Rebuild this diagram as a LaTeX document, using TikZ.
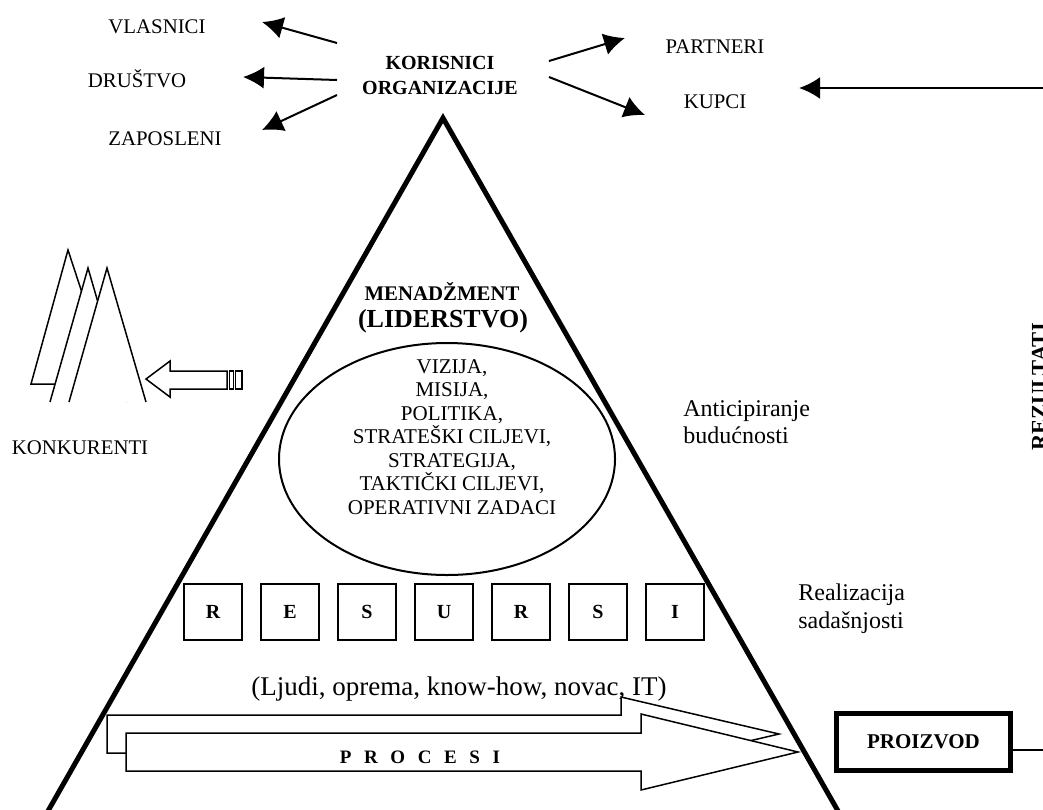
\documentclass[tikz,border=0pt]{standalone}
\usepackage{fontspec}
\setmainfont{Liberation Serif}
\usetikzlibrary{arrows.meta,shapes.geometric}
\newcommand{\fsz}[2]{\fontsize{#1}{#2}\selectfont}
\begin{document}
\begin{tikzpicture}[x=0.5pt,y=-0.5pt,
 lbl/.style={font=\fsz{10.4}{12}, inner sep=0, anchor=base},
 bl/.style={font=\bfseries\fsz{10}{12.5}, inner sep=0},
 conn/.style={line width=1pt, -{Latex[length=10.5pt,width=11pt]}},
 edgeline/.style={line width=2.5pt, line join=miter},
 rbox/.style={draw, line width=0.75pt, minimum width=29pt, minimum height=28pt, inner sep=0, font=\bfseries\fsz{10}{12}},
 hollow/.style={draw, line width=0.75pt, fill=white, line join=miter},
 thin/.style={line width=0.75pt, line join=miter},
]
\useasboundingbox (0,0) rectangle (1043,809);

% main pyramid
\coordinate (apex) at (443,118);
\coordinate (bl) at (48,811);
\coordinate (br) at (838,811);
\draw[edgeline] (bl) -- (apex) -- (br);

% users of the organisation
\node[bl, align=center] (kor) at (440,75.5) {KORISNICI\\ORGANIZACIJE};
\node[lbl] (vla) at (157,33) {VLASNICI};
\node[lbl] (dru) at (137,87) {DRUŠTVO};
\node[lbl] (zap) at (165,145) {ZAPOSLENI};
\node[lbl] (par) at (715,53) {PARTNERI};
\node[lbl] (kup) at (715,108) {KUPCI};

\coordinate (k1) at (337,43);  \coordinate (t1) at (262,22);
\coordinate (k2) at (337,80);  \coordinate (t2) at (243,77);
\coordinate (k3) at (337,95);  \coordinate (t3) at (262,130);
\coordinate (k4) at (549,61);  \coordinate (t4) at (625,38);
\coordinate (k5) at (549,77);  \coordinate (t5) at (645,115);
\draw[conn] (k1) -- (t1);
\draw[conn] (k2) -- (t2);
\draw[conn] (k3) -- (t3);
\draw[conn] (k4) -- (t4);
\draw[conn] (k5) -- (t5);

\coordinate (rin) at (1043,88); \coordinate (kt) at (799,88);
\draw[line width=1.25pt, -{Latex[length=10.5pt,width=11pt]}] (rin) -- (kt);

% competitors
\draw[hollow] (31,384) -- (68,250) -- (112,384) -- cycle;
\fill[white] (50,402) -- (88,268) -- (127,402) -- cycle;
\draw[thin] (50,402) -- (88,268) -- (127,402);
\fill[white] (69,402) -- (107,268) -- (146,402) -- cycle;
\draw[thin] (69,402) -- (107,268) -- (146,402);
\draw[hollow] (146,379) -- (170,361) -- (170,371) -- (227,371) -- (227,389) -- (170,389) -- (170,397) -- cycle;
\draw[thin] (229.5,371) rectangle (233.5,389);
\draw[thin] (235.5,371) rectangle (242,389);
\node[lbl] (kon) at (80,454) {KONKURENTI};

% management
\node[font=\bfseries\fsz{10.4}{12}, inner sep=0] (men) at (442,291) {MENADŽMENT};
\node[font=\bfseries\fsz{13}{15}, inner sep=0] (lid) at (443,321) {(LIDERSTVO)};
\node[ellipse, draw, line width=1pt, minimum width=168pt, minimum height=116pt, inner sep=0] (ell) at (447,459) {};
\node[font=\fsz{10.5}{11.75}, align=center, inner sep=0] (goals) at (452,437)
 {VIZIJA,\\MISIJA,\\POLITIKA,\\STRATEŠKI CILJEVI,\\STRATEGIJA,\\TAKTIČKI CILJEVI,\\OPERATIVNI ZADACI};

\node[font=\fsz{12}{13.5}, align=left, inner sep=0, anchor=west] (ant) at (683,422) {Anticipiranje\\budućnosti};
\node[font=\fsz{12}{14}, align=left, inner sep=0, anchor=west] (rea) at (798,608.5) {Realizacija\\sadašnjosti};

% resources
\foreach \L [count=\i from 0] in {R,E,S,U,R,S,I}
  \node[rbox] (res\i) at (213+77*\i,612) {\L};

\node[font=\fsz{13.5}{15}, inner sep=0, anchor=base] (ljudi) at (459,695) {(Ljudi, oprema, know-how, novac, IT)};

% processes
\draw[hollow] (107,715) -- (621,715) -- (621,697) -- (779,734) -- (621,771) -- (621,753) -- (107,753) -- cycle;
\draw[hollow] (126,733) -- (641,733) -- (641,714) -- (798,752) -- (641,790) -- (641,771) -- (126,771) -- cycle;
\node[font=\bfseries\fsz{9.5}{11}, inner sep=0, anchor=base] (proc) at (420,763)
 {P\hspace{6.3pt}R\hspace{6.3pt}O\hspace{6.3pt}C\hspace{6.3pt}E\hspace{6.3pt}S\hspace{6.3pt}I};

% product and results
\node[draw, line width=2.5pt, minimum width=87pt, minimum height=28.5pt, inner sep=0, font=\bfseries\fsz{10.5}{12}] (pro) at (923.5,742) {PROIZVOD};
\coordinate (rout) at (1043,750);
\draw[thin] (pro.east |- rout) -- (rout);
\node[rotate=90, font=\bfseries\fsz{11.3}{13}, inner sep=0] (rez) at (1039.5,387) {REZULTATI};
\end{tikzpicture}
\end{document}
